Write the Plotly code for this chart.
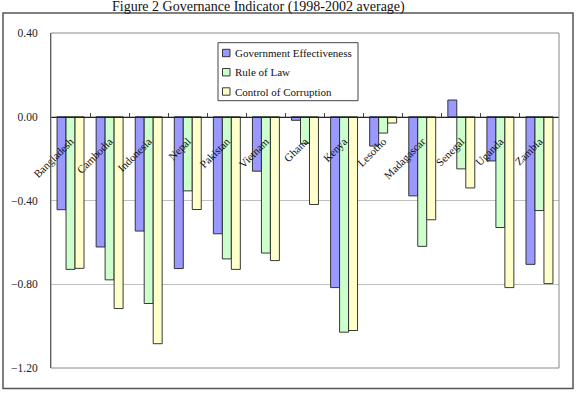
import plotly.graph_objects as go

countries = ["Bangladesh", "Cambodia", "Indonesia", "Nepal", "Pakistan", "Vietnam",
             "Ghana", "Kenya", "Lesotho", "Madagascar", "Senegal", "Uganda", "Zambia"]
gov_eff = [-0.444, -0.622, -0.546, -0.725, -0.559, -0.260, -0.017, -0.816, -0.140,
           -0.378, 0.080, -0.211, -0.705]
rule_law = [-0.729, -0.779, -0.892, -0.354, -0.679, -0.651, -0.127, -1.029, -0.078,
            -0.619, -0.249, -0.529, -0.448]
corruption = [-0.724, -0.916, -1.084, -0.443, -0.729, -0.687, -0.419, -1.021, -0.030,
              -0.492, -0.340, -0.816, -0.797]
series_names = ["Government Effectiveness", "Rule of Law", "Control of Corruption"]
series_colors = ["#9999FF", "#CCFFCC", "#FFFFCC"]
y_ticks = [0.4, 0.0, -0.4, -0.8, -1.2]

W, H = 580, 393
L, R, T, B = 51, 21, 33, 25
PW, PH = W - L - R, H - T - B


def X(px):
    return (px - L) / PW


def Y(py):
    return (H - B - py) / PH


fig = go.Figure()
for name, vals, col in zip(series_names, [gov_eff, rule_law, corruption], series_colors):
    fig.add_trace(go.Bar(x=countries, y=vals, name=name, marker_color=col,
                         marker_line_color="#222222", marker_line_width=0.9,
                         showlegend=False))

serif = "Liberation Serif, Times New Roman, serif"

shapes = []
annotations = []
# outer frame
shapes.append(dict(type="rect", xref="paper", yref="paper", x0=X(3), x1=X(573), y0=Y(388.5), y1=Y(13),
                   line=dict(color="#555555", width=1.5), layer="below"))
# plot area frame
shapes.append(dict(type="rect", xref="paper", yref="paper", x0=0, x1=1, y0=0, y1=1,
                   line=dict(color="#8a8a8a", width=1), layer="above"))
# legend box
shapes.append(dict(type="rect", xref="paper", yref="paper", x0=X(218), x1=X(358), y0=Y(100.7), y1=Y(42.7),
                   line=dict(color="#444444", width=1), fillcolor="white", layer="above"))
row_y = [53.0, 72.2, 91.5]
for name, col, ry in zip(series_names, series_colors, row_y):
    shapes.append(dict(type="rect", xref="paper", yref="paper", x0=X(222.5), x1=X(230), y0=Y(ry + 3.7), y1=Y(ry - 3.7),
                       line=dict(color="#222222", width=0.9), fillcolor=col, layer="above"))
    annotations.append(dict(text=name, xref="paper", yref="paper", x=X(232.5), y=Y(ry), xanchor="left",
                            yanchor="middle", showarrow=False, font=dict(family=serif, size=11, color="#111111")))

annotations.append(dict(text="Figure 2 Governance Indicator (1998-2002 average)", xref="paper", yref="paper",
                        x=X(258.5), y=Y(6.5), xanchor="center", yanchor="middle", showarrow=False,
                        font=dict(family=serif, size=14, color="#111111")))

fig.update_layout(
    width=W, height=H,
    margin=dict(l=L, r=R, t=T, b=B, pad=0),
    paper_bgcolor="white", plot_bgcolor="white",
    barmode="group", bargap=0.31, bargroupgap=0,
    showlegend=False,
    shapes=shapes, annotations=annotations,
    font=dict(family=serif, size=11, color="#111111"),
    xaxis=dict(anchor="free", position=0.75, showline=True, linecolor="#222222", linewidth=1,
               ticks="inside", ticklen=4, tickcolor="#444444", tickson="boundaries",
               tickangle=-45, tickfont=dict(family=serif, size=11, color="#111111"),
               showgrid=False, ticklabelstandoff=13, fixedrange=True),
    yaxis=dict(range=[-1.2, 0.4], tickvals=y_ticks, tickformat=".2f", showgrid=True, gridcolor="#c0c0c0",
               gridwidth=1, zeroline=False, showline=True, linecolor="#333333", linewidth=1,
               ticks="", tickfont=dict(family=serif, size=11.5, color="#222222"), ticklabelstandoff=10,
               domain=[0, 1]),
)

fig.write_html("out.html")
